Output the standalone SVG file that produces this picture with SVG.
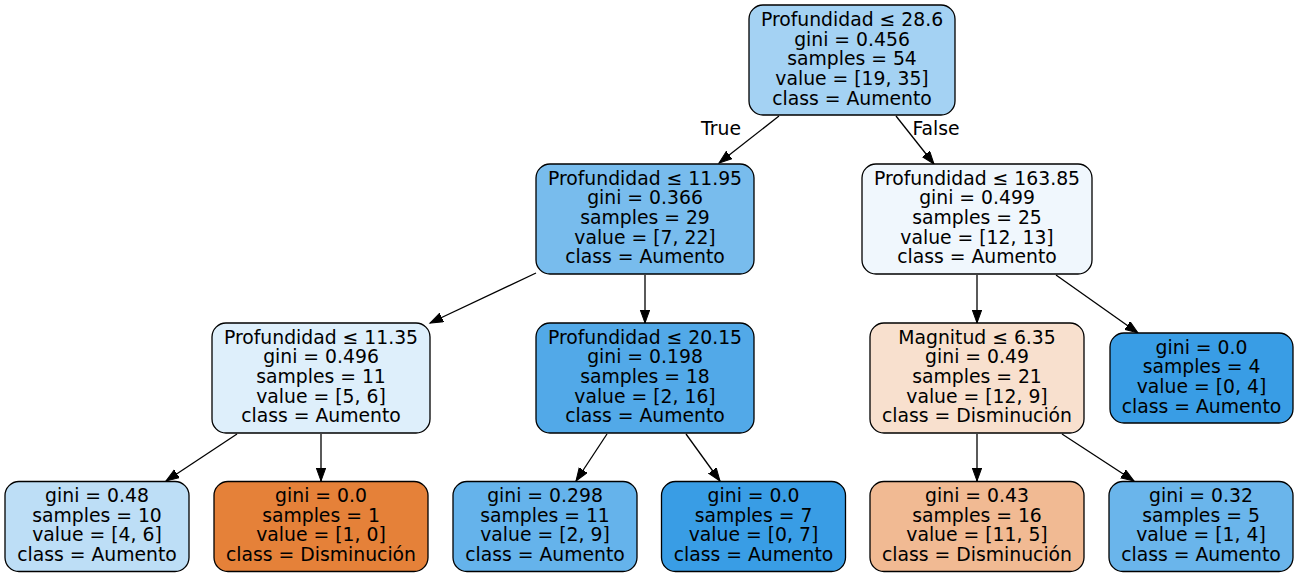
<svg xmlns="http://www.w3.org/2000/svg" width="1299" height="577" viewBox="0 0 1299 577">
<defs>
<style>
.box{stroke:#000;stroke-width:1.3}
text{font-family:"DejaVu Sans","Liberation Sans",sans-serif;font-size:18.8px;fill:#000;text-anchor:middle}
.edge{stroke:#000;stroke-width:1.3;fill:none;marker-end:url(#arr)}
</style>
<marker id="arr" markerUnits="userSpaceOnUse" markerWidth="15" markerHeight="11" refX="13" refY="5" orient="auto">
<path d="M0,0.3 L13,5 L0,9.7 z" fill="#000" stroke="#000" stroke-width="1"/>
</marker>
</defs>
<rect width="1299" height="577" fill="#fff"/>
<g id="connectors">
<line class="edge" x1="779" y1="116" x2="719" y2="163"/>
<line class="edge" x1="896" y1="116" x2="934" y2="164"/>
<line class="edge" x1="536" y1="273" x2="430" y2="323"/>
<line class="edge" x1="645" y1="275" x2="645" y2="323"/>
<line class="edge" x1="977" y1="275" x2="977" y2="323"/>
<line class="edge" x1="1056" y1="275" x2="1138" y2="333"/>
<line class="edge" x1="237" y1="434" x2="166" y2="481"/>
<line class="edge" x1="321" y1="434" x2="321" y2="481"/>
<line class="edge" x1="607" y1="434" x2="576" y2="481"/>
<line class="edge" x1="686" y1="434" x2="720" y2="481"/>
<line class="edge" x1="977" y1="434" x2="977" y2="481"/>
<line class="edge" x1="1062" y1="434" x2="1134" y2="481"/>
<text x="721" y="135">True</text>
<text x="936" y="135">False</text>
</g>
<g id="node0">
<rect class="box" x="749" y="5" width="206" height="110" rx="14" fill="#a4d2f3"/>
<text x="852" y="26">Profundidad ≤ 28.6</text>
<text x="852" y="45.7">gini = 0.456</text>
<text x="852" y="65.4">samples = 54</text>
<text x="852" y="85.1">value = [19, 35]</text>
<text x="852" y="104.8">class = Aumento</text>
</g>
<g id="node1">
<rect class="box" x="536" y="164" width="218" height="110" rx="14" fill="#78bced"/>
<text x="645" y="184.5">Profundidad ≤ 11.95</text>
<text x="645" y="204.2">gini = 0.366</text>
<text x="645" y="223.9">samples = 29</text>
<text x="645" y="243.6">value = [7, 22]</text>
<text x="645" y="263.3">class = Aumento</text>
</g>
<g id="node2">
<rect class="box" x="862" y="164" width="230" height="110" rx="14" fill="#f0f7fd"/>
<text x="977" y="184.5">Profundidad ≤ 163.85</text>
<text x="977" y="204.2">gini = 0.499</text>
<text x="977" y="223.9">samples = 25</text>
<text x="977" y="243.6">value = [12, 13]</text>
<text x="977" y="263.3">class = Aumento</text>
</g>
<g id="node3">
<rect class="box" x="212" y="323" width="218" height="110" rx="14" fill="#deeffb"/>
<text x="321" y="343.5">Profundidad ≤ 11.35</text>
<text x="321" y="363.2">gini = 0.496</text>
<text x="321" y="382.9">samples = 11</text>
<text x="321" y="402.6">value = [5, 6]</text>
<text x="321" y="422.3">class = Aumento</text>
</g>
<g id="node4">
<rect class="box" x="536" y="323" width="218" height="110" rx="14" fill="#52a9e8"/>
<text x="645" y="343.5">Profundidad ≤ 20.15</text>
<text x="645" y="363.2">gini = 0.198</text>
<text x="645" y="382.9">samples = 18</text>
<text x="645" y="402.6">value = [2, 16]</text>
<text x="645" y="422.3">class = Aumento</text>
</g>
<g id="node5">
<rect class="box" x="870" y="323" width="214" height="110" rx="14" fill="#f8e0ce"/>
<text x="977" y="343.5">Magnitud ≤ 6.35</text>
<text x="977" y="363.2">gini = 0.49</text>
<text x="977" y="382.9">samples = 21</text>
<text x="977" y="402.6">value = [12, 9]</text>
<text x="977" y="422.3">class = Disminución</text>
</g>
<g id="node6">
<rect class="box" x="1110" y="333" width="183" height="90" rx="14" fill="#399de5"/>
<text x="1201.5" y="353.5">gini = 0.0</text>
<text x="1201.5" y="373.2">samples = 4</text>
<text x="1201.5" y="392.9">value = [0, 4]</text>
<text x="1201.5" y="412.6">class = Aumento</text>
</g>
<g id="node7">
<rect class="box" x="5" y="481.5" width="184" height="90" rx="14" fill="#bddef6"/>
<text x="97" y="502">gini = 0.48</text>
<text x="97" y="521.7">samples = 10</text>
<text x="97" y="541.4">value = [4, 6]</text>
<text x="97" y="561.1">class = Aumento</text>
</g>
<g id="node8">
<rect class="box" x="214" y="481.5" width="214" height="90" rx="14" fill="#e58139"/>
<text x="321" y="502">gini = 0.0</text>
<text x="321" y="521.7">samples = 1</text>
<text x="321" y="541.4">value = [1, 0]</text>
<text x="321" y="561.1">class = Disminución</text>
</g>
<g id="node9">
<rect class="box" x="453" y="481.5" width="184" height="90" rx="14" fill="#65b3eb"/>
<text x="545" y="502">gini = 0.298</text>
<text x="545" y="521.7">samples = 11</text>
<text x="545" y="541.4">value = [2, 9]</text>
<text x="545" y="561.1">class = Aumento</text>
</g>
<g id="node10">
<rect class="box" x="661.5" y="481.5" width="184" height="90" rx="14" fill="#399de5"/>
<text x="753.5" y="502">gini = 0.0</text>
<text x="753.5" y="521.7">samples = 7</text>
<text x="753.5" y="541.4">value = [0, 7]</text>
<text x="753.5" y="561.1">class = Aumento</text>
</g>
<g id="node11">
<rect class="box" x="870" y="481.5" width="214" height="90" rx="14" fill="#f1ba93"/>
<text x="977" y="502">gini = 0.43</text>
<text x="977" y="521.7">samples = 16</text>
<text x="977" y="541.4">value = [11, 5]</text>
<text x="977" y="561.1">class = Disminución</text>
</g>
<g id="node12">
<rect class="box" x="1109" y="481.5" width="184" height="90" rx="14" fill="#6ab5eb"/>
<text x="1201" y="502">gini = 0.32</text>
<text x="1201" y="521.7">samples = 5</text>
<text x="1201" y="541.4">value = [1, 4]</text>
<text x="1201" y="561.1">class = Aumento</text>
</g>
</svg>
